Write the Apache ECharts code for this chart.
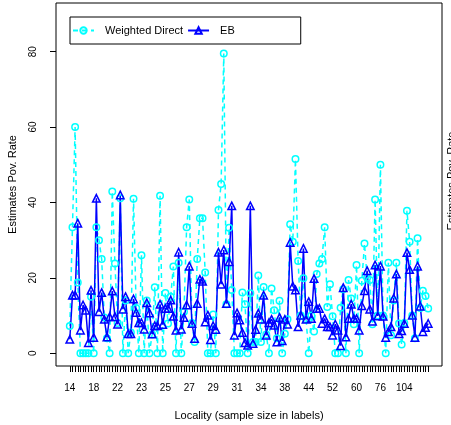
<!DOCTYPE html>
<html>
<head>
<meta charset="utf-8">
<script src="https://cdn.jsdelivr.net/npm/echarts@6/dist/echarts.min.js"></script>
<style>
  html, body { margin: 0; padding: 0; background: #fff; }
  #chart { width: 451px; height: 425px; }
</style>
</head>
<body>
<div id="chart"></div>
<script>
// localities sorted by sample size (one entry per locality)
const sampleSizes = [
  14, 14, 15, 15, 16, 16, 17, 17, 17,
  18, 18, 19, 19, 20, 20, 21, 21, 21,
  22, 22, 22, 22, 22, 22, 23, 23, 23,
  23, 23, 23, 23, 24, 24, 24, 24, 24,
  25, 25, 25, 25, 26, 26, 26, 26, 26,
  27, 27, 27, 28, 28, 28, 28, 28, 28,
  29, 29, 29, 29, 30, 30, 30, 30, 30,
  31, 31, 31, 32, 32, 32, 33, 33, 33,
  34, 34, 35, 35, 36, 36, 37, 37, 37,
  38, 38, 39, 40, 40, 41, 42, 43, 43,
  44, 45, 46, 47, 48, 49, 50, 51, 51,
  52, 53, 54, 55, 56, 57, 58, 59, 59,
  60, 62, 64, 66, 68, 70, 72, 74, 75,
  76, 79, 82, 85, 88, 91, 94, 97, 100,
  104, 110, 118, 125, 134, 145, 160, 180, 210, 250
]

const weightedDirect = [
  7.2, 33.4, 60.0, 18.8, 0, 0, 0, 0, 15.0, 0,
  33.4, 30.0, 25.0, 9.5, 4.0, 0, 42.9, 23.8, 8.0, 41.1,
  0, 14.0, 0, 5.5, 41.0, 12.0, 0, 26.0, 0, 14.0,
  0, 5.0, 17.5, 0, 41.8, 0, 16.0, 7.9, 15.0, 23.0,
  0, 24.0, 0, 11.0, 33.4, 40.8, 8.0, 3.0, 25.0, 35.8,
  35.8, 21.4, 0, 0, 10.3, 0, 38.0, 44.9, 79.5, 13.0,
  33.3, 16.8, 0, 0, 0, 16.1, 13.0, 0, 15.9, 3.0,
  3.0, 20.6, 3.0, 17.6, 5.0, 0, 17.2, 11.4, 4.0, 13.9,
  0, 5.2, 9.0, 34.2, 29.6, 51.5, 24.5, 10.0, 19.9, 9.0,
  0, 10.0, 5.8, 21.0, 23.8, 25.0, 33.4, 12.3, 18.3, 9.8,
  0, 0, 12.1, 17.0, 0, 19.4, 14.5, 7.7, 23.4, 0,
  19.2, 29.1, 20.0, 19.4, 7.7, 40.8, 10.0, 50.0, 10.0, 0,
  24.0, 4.8, 14.0, 24.0, 7.9, 2.3, 8.0, 37.8, 29.6, 10.0,
  4.0, 30.5, 12.0, 16.6, 15.2, 11.9
]

const ebEstimates = [
  3.7, 15.4, 15.4, 34.5, 6.1, 12.8, 11.4, 2.8, 16.7, 4.2,
  41.1, 11.0, 16.1, 9.0, 4.3, 9.7, 16.5, 9.7, 7.7, 42.0,
  11.7, 15.0, 5.2, 5.2, 14.4, 10.8, 8.1, 8.1, 6.4, 13.4,
  10.7, 5.1, 7.3, 7.3, 13.0, 7.6, 11.9, 11.9, 14.1, 9.8,
  6.1, 26.8, 6.4, 9.5, 12.8, 23.1, 7.9, 3.9, 13.2, 19.6,
  19.1, 8.3, 10.1, 3.6, 7.3, 6.3, 26.8, 18.3, 27.4, 13.2,
  24.3, 39.1, 4.8, 10.7, 8.8, 5.5, 2.8, 2.1, 39.1, 2.6,
  6.3, 10.6, 9.0, 15.4, 4.8, 8.1, 9.0, 7.4, 3.0, 9.5,
  3.3, 9.0, 7.7, 29.4, 17.8, 16.8, 7.0, 10.1, 27.8, 9.0,
  13.7, 9.2, 19.8, 11.9, 11.9, 7.9, 9.2, 7.0, 7.0, 4.8,
  7.7, 6.1, 2.0, 17.4, 4.3, 9.2, 13.0, 9.2, 9.2, 6.1,
  12.6, 16.6, 21.9, 11.7, 8.5, 23.4, 9.9, 23.1, 9.8, 4.2,
  5.7, 7.0, 14.6, 21.0, 5.2, 6.0, 7.9, 26.7, 22.2, 10.1,
  4.2, 23.1, 12.5, 5.7, 6.8, 7.9
]

// positions (locality index) where a sample size label is printed
const xLabelIdx = [0, 9, 18, 27, 36, 45, 54, 63, 72, 81, 90, 99, 108, 117, 126]
const yTicks = [0, 20, 40, 60, 80]

const fontFamily = '"Liberation Sans", Arial, sans-serif'
const CYAN = '#00FFFF'
const BLUE = '#0000FF'

const chart = echarts.init(document.getElementById('chart'), null, { renderer: 'canvas' })

chart.setOption({
  animation: false,
  backgroundColor: '#fff',
  textStyle: { fontFamily },
  grid: {
    left: 56,
    right: 9,
    top: 3,
    bottom: 59,
    show: true,
    borderColor: '#000',
    borderWidth: 1,
    backgroundColor: 'transparent',
    outerBoundsMode: 'none',
  },
  legend: {
    left: 70,
    top: 17,
    orient: 'horizontal',
    borderColor: '#000',
    borderWidth: 1,
    backgroundColor: '#fff',
    padding: [8, 66, 8, 2],
    itemWidth: 21,
    itemHeight: 8,
    itemGap: 4,
    textStyle: { fontSize: 11, color: '#000', fontFamily, padding: [0, 0, 0, 6] },
    data: ['Weighted Direct', 'EB'],
  },
  xAxis: {
    type: 'value',
    min: -5.2,
    max: 140.2,
    axisLine: { show: false, onZero: false },
    axisTick: {
      show: true,
      customValues: sampleSizes.map((_, i) => i),
      length: 6,
      lineStyle: { color: '#000', width: 1 },
    },
    axisLabel: {
      customValues: xLabelIdx,
      formatter: (v) => String(sampleSizes[v]),
      fontSize: 10,
      color: '#000',
      margin: 17,
      fontFamily,
    },
    splitLine: { show: false },
    name: 'Locality (sample size in labels)',
    nameLocation: 'middle',
    nameGap: 44,
    nameTextStyle: { fontSize: 11, color: '#000', fontFamily },
  },
  yAxis: {
    type: 'value',
    min: -3.38,
    max: 92.9,
    axisLine: { show: false, onZero: false },
    axisTick: {
      show: true,
      customValues: yTicks,
      length: 6,
      lineStyle: { color: '#000', width: 1 },
    },
    axisLabel: {
      customValues: yTicks,
      rotate: 90,
      fontSize: 10,
      color: '#000',
      margin: 18,
      fontFamily,
    },
    splitLine: { show: false },
    name: 'Estimates Pov. Rate',
    nameLocation: 'middle',
    nameGap: 38,
    nameTextStyle: { fontSize: 11, color: '#000', fontFamily },
  },
  graphic: [
    {
      // y title of the neighbouring panel, cut by the right edge
      type: 'text',
      x: 452,
      y: 181,
      rotation: Math.PI / 2,
      style: {
        text: 'Estimates Pov. Rate',
        font: '11px "Liberation Sans", Arial, sans-serif',
        fill: '#000',
        align: 'center',
        verticalAlign: 'middle',
      },
    },
  ],
  series: [
    {
      name: 'Weighted Direct',
      type: 'line',
      data: weightedDirect.map((v, i) => [i, v]),
      symbol: 'circle',
      symbolSize: 6.5,
      itemStyle: { color: 'rgba(0,0,0,0)', borderColor: CYAN, borderWidth: 1.5 },
      lineStyle: { color: CYAN, width: 1.5, type: [5, 4] },
      emphasis: { disabled: true },
    },
    {
      name: 'EB',
      type: 'line',
      data: ebEstimates.map((v, i) => [i, v]),
      symbol: 'triangle',
      symbolSize: 7.5,
      itemStyle: { color: 'rgba(0,0,0,0)', borderColor: BLUE, borderWidth: 1.5 },
      lineStyle: { color: BLUE, width: 1.5 },
      emphasis: { disabled: true },
    },
  ],
})
</script>
</body>
</html>
